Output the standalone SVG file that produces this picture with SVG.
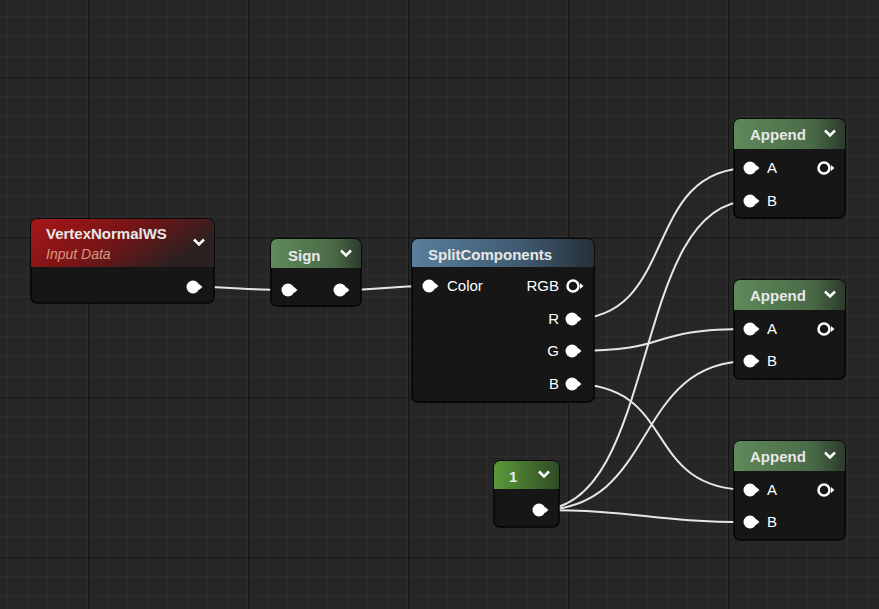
<svg xmlns="http://www.w3.org/2000/svg" width="879" height="609" viewBox="0 0 879 609">
<defs>
<pattern id="minor" width="20" height="20" patternUnits="userSpaceOnUse" x="8" y="17"><path d="M20 0V20M0 20H20" stroke="#343434" stroke-width="1" fill="none"/></pattern>
<pattern id="major" width="160" height="160" patternUnits="userSpaceOnUse" x="88" y="77"><path d="M0.5 0V160M0 0.5H160" stroke="#161616" stroke-width="1.5" fill="none"/></pattern>
<linearGradient id="red" x1="0" y1="0" x2="1" y2="0.4"><stop offset="0" stop-color="#a8181a"/><stop offset="0.5" stop-color="#7a1416"/><stop offset="1" stop-color="#2a2020"/></linearGradient>
<linearGradient id="green" x1="0" y1="0" x2="1" y2="0"><stop offset="0" stop-color="#5f8a5a"/><stop offset="0.7" stop-color="#4a6a47"/><stop offset="1" stop-color="#2c3a2c"/></linearGradient>
<linearGradient id="blue" x1="0" y1="0" x2="1" y2="0"><stop offset="0" stop-color="#5a7f9c"/><stop offset="0.6" stop-color="#3f5a70"/><stop offset="1" stop-color="#263038"/></linearGradient>
<linearGradient id="lime" x1="0" y1="0" x2="1" y2="0"><stop offset="0" stop-color="#5c9a3a"/><stop offset="1" stop-color="#2f4a25"/></linearGradient>
<g id="pin"><circle r="6.5" fill="#fff"/><path d="M6 -3L9.5 0L6 3Z" fill="#fff"/></g>
<g id="hpin"><circle r="5.5" fill="none" stroke="#fff" stroke-width="2.5"/><path d="M7 -3L10.5 0L7 3Z" fill="#fff"/></g>
<g id="chev"><path d="M-5 -2.5L0 2.5L5 -2.5" fill="none" stroke="#fff" stroke-width="2.5"/></g>
</defs>
<style>
.body{fill:#151615;stroke:#050505;stroke-width:1.5}
.t{font-family:"Liberation Sans",Arial,sans-serif;font-size:15px;fill:#fff}
.h{font-family:"Liberation Sans",Arial,sans-serif;font-size:15px;font-weight:bold;fill:#e8e8e8}
.w{fill:none;stroke:#e6e6e6;stroke-width:2}
</style>
<rect width="879" height="609" fill="#262626"/>
<rect width="879" height="609" fill="url(#minor)"/>
<rect width="879" height="609" fill="url(#major)"/>
<g id="connectors">
<path class="w" d="M193 287C240 287 240 290 288 290"/>
<path class="w" d="M340 290C385 290 385 286 429 286"/>
<path class="w" d="M572 319C680 319 640 168 750 168"/>
<path class="w" d="M572 351C680 351 640 329 750 329"/>
<path class="w" d="M572 384C680 384 640 490 750 490"/>
<path class="w" d="M539 510C660 510 630 201 750 201"/>
<path class="w" d="M539 510C660 510 630 361 750 361"/>
<path class="w" d="M539 510C640 510 650 522 750 522"/>
</g>
<g id="vertexnormal">
<rect class="body" x="31" y="219" width="183" height="84" rx="6"/>
<path d="M37 219H208A6 6 0 0 1 214 225V267H31V225A6 6 0 0 1 37 219Z" fill="url(#red)"/>
<text class="h" x="46" y="239">VertexNormalWS</text>
<text x="46" y="259" font-family="Liberation Sans,Arial,sans-serif" font-size="14" font-style="italic" fill="#d89a80">Input Data</text>
<use href="#chev" x="199" y="242"/>
<use href="#pin" x="193" y="287"/>
</g>
<g id="sign">
<rect class="body" x="271" y="239" width="90" height="67" rx="6"/>
<path d="M277 239H355A6 6 0 0 1 361 245V268H271V245A6 6 0 0 1 277 239Z" fill="url(#green)"/>
<text class="h" x="288" y="261">Sign</text>
<use href="#chev" x="346" y="253"/>
<use href="#pin" x="288" y="290"/>
<use href="#pin" x="340" y="290"/>
</g>
<g id="split">
<rect class="body" x="412" y="239" width="182" height="163" rx="6"/>
<path d="M418 239H588A6 6 0 0 1 594 245V267H412V245A6 6 0 0 1 418 239Z" fill="url(#blue)"/>
<text class="h" x="428" y="260">SplitComponents</text>
<use href="#pin" x="429" y="286"/><text class="t" x="447" y="291">Color</text>
<use href="#hpin" x="573" y="286"/><text class="t" x="559" y="291" text-anchor="end">RGB</text>
<use href="#pin" x="572" y="319"/><text class="t" x="559" y="324" text-anchor="end">R</text>
<use href="#pin" x="572" y="351"/><text class="t" x="559" y="356" text-anchor="end">G</text>
<use href="#pin" x="572" y="384"/><text class="t" x="559" y="389" text-anchor="end">B</text>
</g>
<g id="append1">
<rect class="body" x="734" y="119" width="111" height="99" rx="6"/>
<path d="M740 119H839A6 6 0 0 1 845 125V149H734V125A6 6 0 0 1 740 119Z" fill="url(#green)"/>
<text class="h" x="750" y="140">Append</text><use href="#chev" x="830" y="133"/>
<use href="#pin" x="750" y="168"/><text class="t" x="767" y="173">A</text>
<use href="#hpin" x="824" y="168"/>
<use href="#pin" x="750" y="201"/><text class="t" x="767" y="206">B</text>
</g>
<g id="append2">
<rect class="body" x="734" y="280" width="111" height="99" rx="6"/>
<path d="M740 280H839A6 6 0 0 1 845 286V310H734V286A6 6 0 0 1 740 280Z" fill="url(#green)"/>
<text class="h" x="750" y="301">Append</text><use href="#chev" x="830" y="294"/>
<use href="#pin" x="750" y="329"/><text class="t" x="767" y="334">A</text>
<use href="#hpin" x="824" y="329"/>
<use href="#pin" x="750" y="361"/><text class="t" x="767" y="366">B</text>
</g>
<g id="append3">
<rect class="body" x="734" y="441" width="111" height="99" rx="6"/>
<path d="M740 441H839A6 6 0 0 1 845 447V471H734V447A6 6 0 0 1 740 441Z" fill="url(#green)"/>
<text class="h" x="750" y="462">Append</text><use href="#chev" x="830" y="455"/>
<use href="#pin" x="750" y="490"/><text class="t" x="767" y="495">A</text>
<use href="#hpin" x="824" y="490"/>
<use href="#pin" x="750" y="522"/><text class="t" x="767" y="527">B</text>
</g>
<g id="const1">
<rect class="body" x="494" y="461" width="65" height="66" rx="6"/>
<path d="M500 461H553A6 6 0 0 1 559 467V489H494V467A6 6 0 0 1 500 461Z" fill="url(#lime)"/>
<text class="h" x="509" y="482">1</text><use href="#chev" x="544" y="474"/>
<use href="#pin" x="539" y="510"/>
</g>
</svg>
